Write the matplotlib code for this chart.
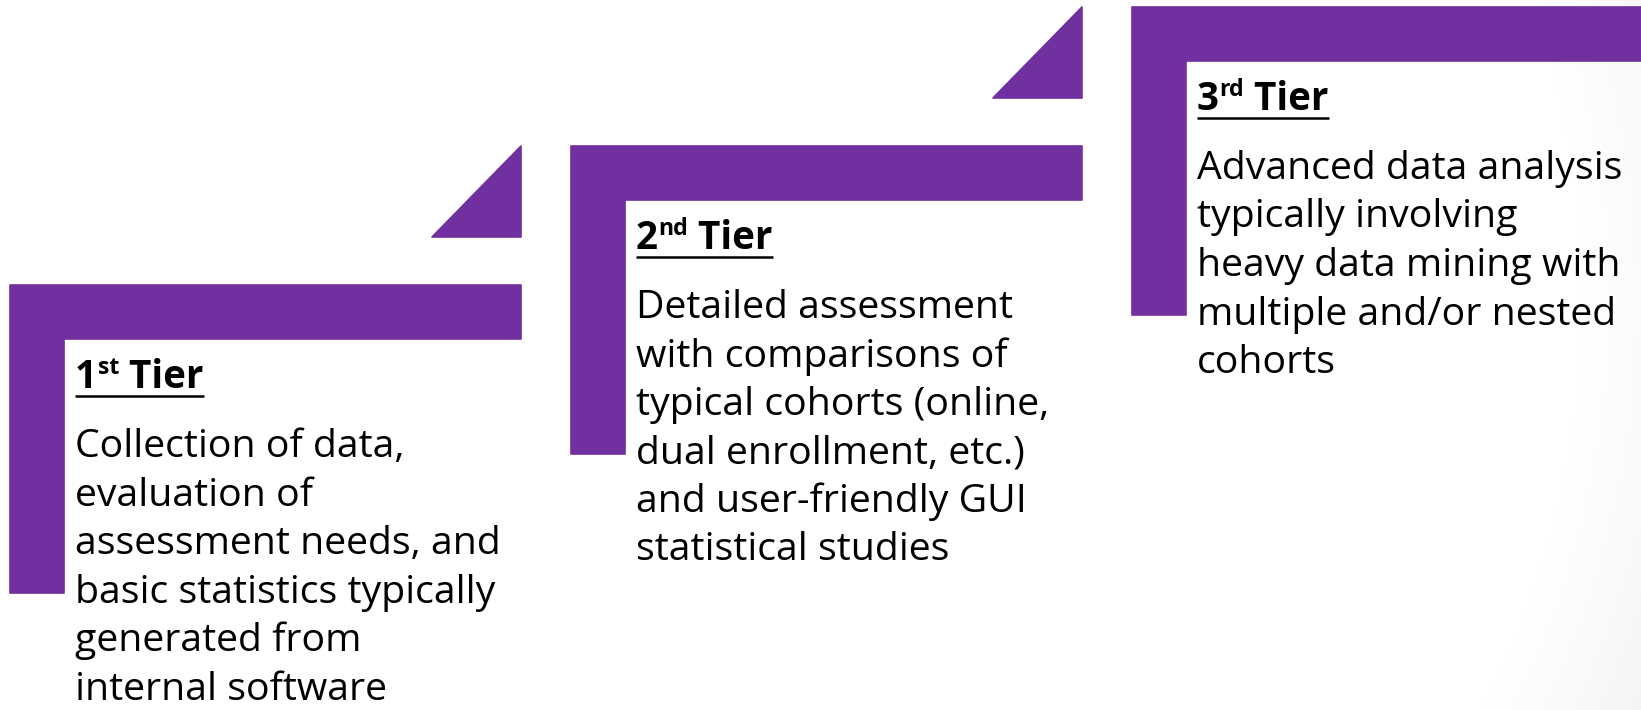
import matplotlib
matplotlib.use("Agg")
import matplotlib.pyplot as plt
import numpy as np
from matplotlib.patches import Polygon

# ---- content ----
tier_numbers = ["1", "2", "3"]
tier_suffixes = ["st", "nd", "rd"]
tier_word = " Tier"
tier1_lines = ["Collection of data,", "evaluation of", "assessment needs, and",
               "basic statistics typically", "generated from", "internal software"]
tier2_lines = ["Detailed assessment", "with comparisons of", "typical cohorts (online,",
               "dual enrollment, etc.)", "and user-friendly GUI", "statistical studies"]
tier3_lines = ["Advanced data analysis", "typically involving", "heavy data mining with",
               "multiple and/or nested", "cohorts"]
tier_bodies = [tier1_lines, tier2_lines, tier3_lines]

PURPLE = "#7030A0"
FONT = "Open Sans"
W_PX, H_PX = 1641, 710

fig = plt.figure(figsize=(W_PX / 100, H_PX / 100), dpi=100)
ax = fig.add_axes([0, 0, 1, 1])
ax.set_xlim(0, W_PX)
ax.set_ylim(H_PX, 0)
ax.axis("off")

# subtle background vignette
yy, xx = np.mgrid[0:H_PX, 0:W_PX]
r = np.hypot(xx - 700, yy - 300)
bg = 1 - 0.08 * np.clip((r - 880) / 300, 0, 1)
ax.imshow(np.dstack([bg, bg, bg]), extent=(0, W_PX, H_PX, 0), zorder=0, aspect="auto")

# layout
x_start, y_start = 10, 285
dx, dy = 561, -139
bar_w, thick, leg_h = 511, 54, 308
tri = 89
tri_gap = 48
line_step = 48.5
fs_body = 28.3
fs_title = 27.8

title_artists = []
for i in range(3):
    x0 = x_start + i * dx
    y0 = y_start + i * dy
    L = [(x0, y0), (x0 + bar_w, y0), (x0 + bar_w, y0 + thick), (x0 + thick, y0 + thick),
         (x0 + thick, y0 + leg_h), (x0, y0 + leg_h)]
    ax.add_patch(Polygon(L, closed=True, facecolor=PURPLE, edgecolor=PURPLE,
                         linewidth=1.2, joinstyle="round", zorder=2))
    T = [(x0 + bar_w - tri, y0 - tri_gap), (x0 + bar_w, y0 - tri_gap),
         (x0 + bar_w, y0 - tri_gap - (tri + 2))]
    ax.add_patch(Polygon(T, closed=True, facecolor=PURPLE, edgecolor=PURPLE,
                         linewidth=1.2, joinstyle="round", zorder=2))

    tx = x0 + 65
    ty = y0 + 103
    t1 = ax.text(tx, ty, tier_numbers[i], fontsize=fs_title, fontweight="bold",
                 family=FONT, ha="left", va="baseline", color="black", zorder=3)
    t2 = ax.annotate(tier_suffixes[i], xy=(1, 0), xycoords=t1, xytext=(0.5, 12),
                     textcoords="offset points", fontsize=fs_title * 0.6,
                     fontweight="bold", family=FONT, ha="left", va="bottom",
                     color="black", zorder=3)
    t3 = ax.annotate(tier_word, xy=(1, 0), xycoords=t2, xytext=(0, -12),
                     textcoords="offset points", fontsize=fs_title, fontweight="bold",
                     family=FONT, ha="left", va="bottom", color="black", zorder=3)
    title_artists.append((t1, t3, tx, ty))

    for k, line in enumerate(tier_bodies[i]):
        ax.text(tx, y0 + 172 + k * line_step, line, fontsize=fs_body, family=FONT,
                ha="left", va="baseline", color="black", zorder=3)

# underline titles
fig.canvas.draw()
inv = ax.transData.inverted()
for t1, t3, tx, ty in title_artists:
    bb = t3.get_window_extent()
    x_end = inv.transform((bb.x1, bb.y0))[0]
    ax.plot([tx, x_end], [ty + 8, ty + 8], color="black", lw=1.8,
            solid_capstyle="butt", zorder=3)

fig.savefig("out.png", dpi=100)
